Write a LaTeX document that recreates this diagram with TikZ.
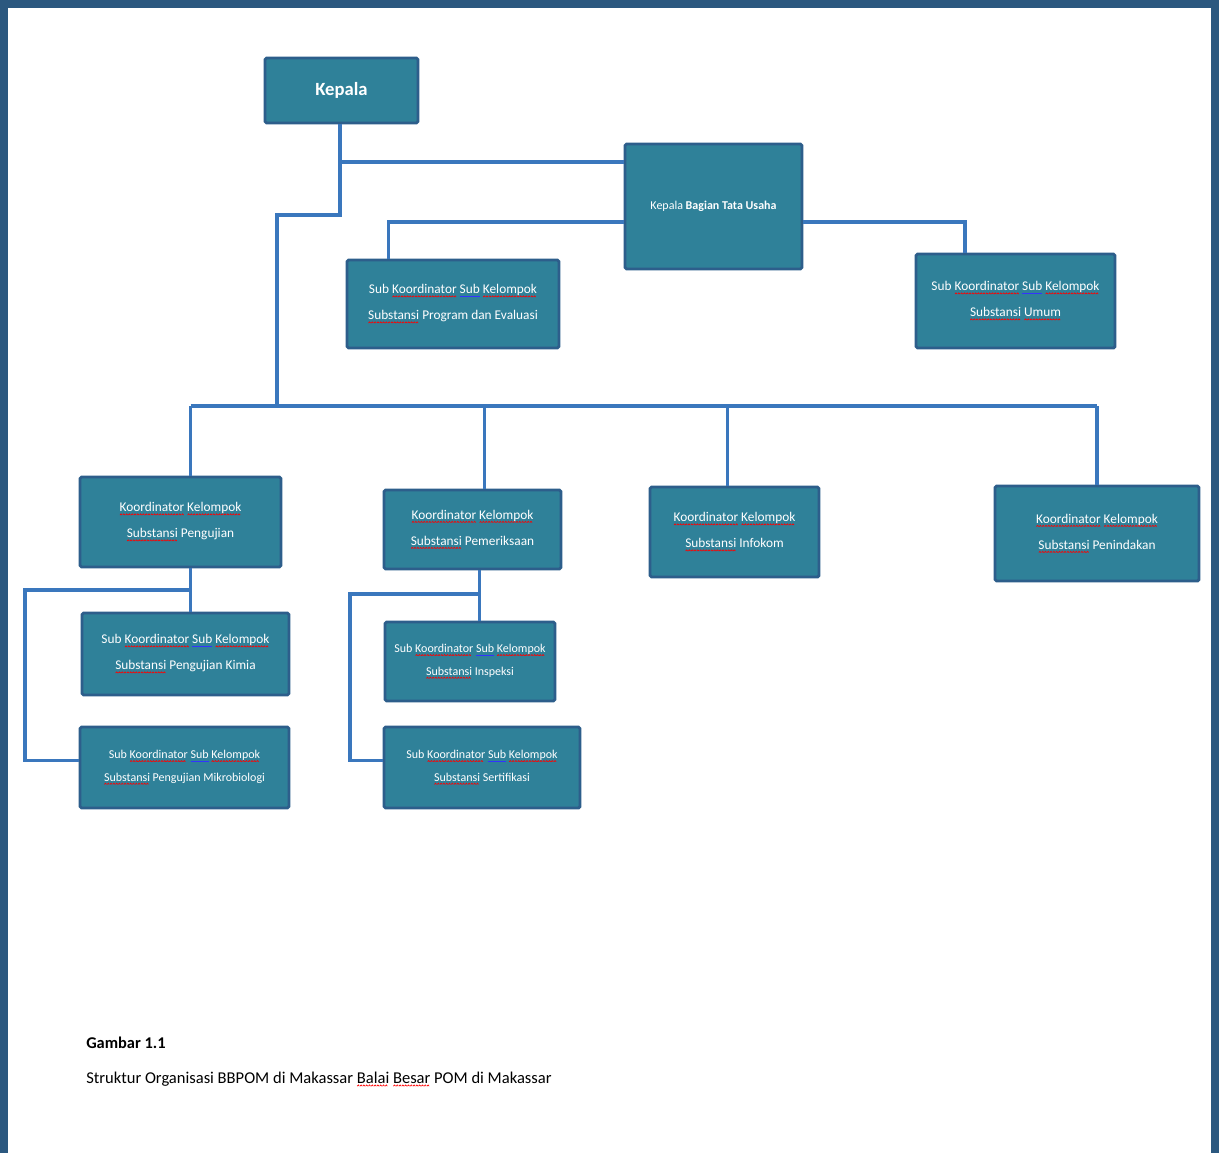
\documentclass[tikz,border=0pt]{standalone}
\usepackage{fontspec}
\setmainfont{Carlito}
\usetikzlibrary{calc}

% Colours
\definecolor{framecolor}{HTML}{2B587F}
\definecolor{boxfill}{HTML}{2F8199}
\definecolor{boxedge}{HTML}{2D5E8B}
\definecolor{linkcolor}{HTML}{3A77BD}

% spell-check marks
\newsavebox\wavebox
\newsavebox\sqbox
\sbox\wavebox{\pgfpicture\pgfsetlinewidth{0.5pt}\pgfsetstrokecolor{red}%
  \pgfpathmoveto{\pgfpoint{0pt}{0pt}}\pgfpathlineto{\pgfpoint{0.8pt}{0.9pt}}%
  \pgfpathlineto{\pgfpoint{1.6pt}{0pt}}\pgfusepath{stroke}\endpgfpicture}
\newcommand\sq[1]{\sbox\sqbox{#1}%
  \rlap{\raisebox{-2.6pt}{\hbox to\wd\sqbox{\leaders\copy\wavebox\hfill}}}\usebox\sqbox}
\newcommand\gq[1]{\sbox\sqbox{#1}%
  \rlap{\textcolor{blue!80}{\rule[-2.4pt]{\wd\sqbox}{0.6pt}}}\usebox\sqbox}
\newcommand\subkoor{Sub \sq{Koordinator} \gq{Sub} \sq{Kelompok}}
\newcommand\koor{\sq{Koordinator} \sq{Kelompok}}

\begin{document}
\begin{tikzpicture}[x=0.75pt,y=-0.75pt,
    unit/.style={draw=boxedge,line width=2.2pt,fill=boxfill,text=white,
      rounded corners=1.2pt,align=center,inner sep=0pt,
      font=\fontsize{10}{19.5}\selectfont},
    size/.style 2 args={minimum width=#1*0.75pt,minimum height=#2*0.75pt},
    link/.style={draw=linkcolor,line width=2.5pt}]

  % page and frame
  \useasboundingbox (0,0) rectangle (1219,1153);
  \fill[white] (0,0) rectangle (1219,1153);
  \fill[framecolor] (0,0) rectangle (1219,8);
  \fill[framecolor] (0,0) rectangle (8,1153);
  \fill[framecolor] (1211,0) rectangle (1219,1153);

  % top level
  \node[unit,size={153}{65},font=\fontsize{14}{16}\selectfont\bfseries]
    (kepala) at (341.5,90.5) {Kepala};
  \node[unit,size={177}{125},font=\fontsize{9}{11}\selectfont]
    (tatausaha) at (713.5,206.5) {Kepala \textbf{Bagian Tata Usaha}};
  \node[unit,size={212}{88}] (program) at (453,304)
    {\subkoor\\\sq{Substansi} Program dan Evaluasi};
  \node[unit,size={199}{94}] (umum) at (1015.5,301)
    {\subkoor\\\sq{Substansi} \sq{Umum}};

  % koordinator kelompok
  \node[unit,size={201}{90}] (pengujian) at (180.5,522)
    {\koor\\\sq{Substansi} Pengujian};
  \node[unit,size={177}{79}] (pemeriksaan) at (472.5,529.5)
    {\koor\\\sq{Substansi} Pemeriksaan};
  \node[unit,size={169}{90}] (infokom) at (734.5,532)
    {\koor\\\sq{Substansi} Infokom};
  \node[unit,size={204}{95}] (penindakan) at (1097,533.5)
    {\koor\\\sq{Substansi} Penindakan};

  % sub koordinator
  \node[unit,size={207}{82}] (kimia) at (185.5,654)
    {\subkoor\\\sq{Substansi} Pengujian Kimia};
  \node[unit,size={209}{81},font=\fontsize{9}{17}\selectfont] (mikro) at (184.5,767.5)
    {\subkoor\\\sq{Substansi} Pengujian Mikrobiologi};
  \node[unit,size={170}{79},font=\fontsize{9}{17}\selectfont] (inspeksi) at (470,661.5)
    {\subkoor\\\sq{Substansi} Inspeksi};
  \node[unit,size={196}{81},font=\fontsize{9}{17}\selectfont] (sertifikasi) at (482,767.5)
    {\subkoor\\\sq{Substansi} Sertifikasi};

  % connectors
  \coordinate (kabag) at (340,162);
  \coordinate (turn) at (340,215);
  \coordinate (busjoin) at (277,406);
  \coordinate (ujleft) at (25,590);
  \coordinate (periksaleft) at (350,594);

  \draw[link] (kepala.south -| turn) -- (turn) -| (busjoin);
  \draw[link] (kabag) -- (kabag -| tatausaha.west);
  \draw[link] (tatausaha.west |- 0,222)
    -| ($(program.north west)!0.2!(program.north east)$);
  \draw[link] (tatausaha.east |- 0,222)
    -| ($(umum.north west)!0.25!(umum.north east)$);

  \path ($(pengujian.north west)!0.55!(pengujian.north east)$) coordinate (b1)
        ($(pemeriksaan.north west)!0.565!(pemeriksaan.north east)$) coordinate (b2)
        ($(infokom.north west)!0.46!(infokom.north east)$) coordinate (b3)
        (penindakan.north) coordinate (b4);
  \draw[link] (b1 |- busjoin) -- (b4 |- busjoin);
  \foreach \b in {b1,b2,b3,b4}
    \draw[link] (\b |- busjoin) -- (\b);

  \path ($(pengujian.south west)!0.55!(pengujian.south east)$) coordinate (u0)
        ($(pemeriksaan.south west)!0.54!(pemeriksaan.south east)$) coordinate (p0);
  \draw[link] (u0) -- (u0 |- kimia.north);
  \draw[link] (u0 |- ujleft) -- (ujleft) |- ([yshift=5.5pt]mikro.west);
  \draw[link] (p0) -- (p0 |- inspeksi.north);
  \draw[link] (p0 |- periksaleft) -- (periksaleft) |- ([yshift=5.5pt]sertifikasi.west);

  % caption
  \node[anchor=base west,inner sep=0pt,font=\fontsize{12.3}{15}\selectfont\bfseries]
    (gambar) at (86,1048) {Gambar 1.1};
  \node[anchor=base west,inner sep=0pt,font=\fontsize{12.4}{14}\selectfont]
    (judul) at (86,1083)
    {Struktur Organisasi BBPOM di Makassar \sq{Balai} \sq{Besar} POM di Makassar};
\end{tikzpicture}
\end{document}
